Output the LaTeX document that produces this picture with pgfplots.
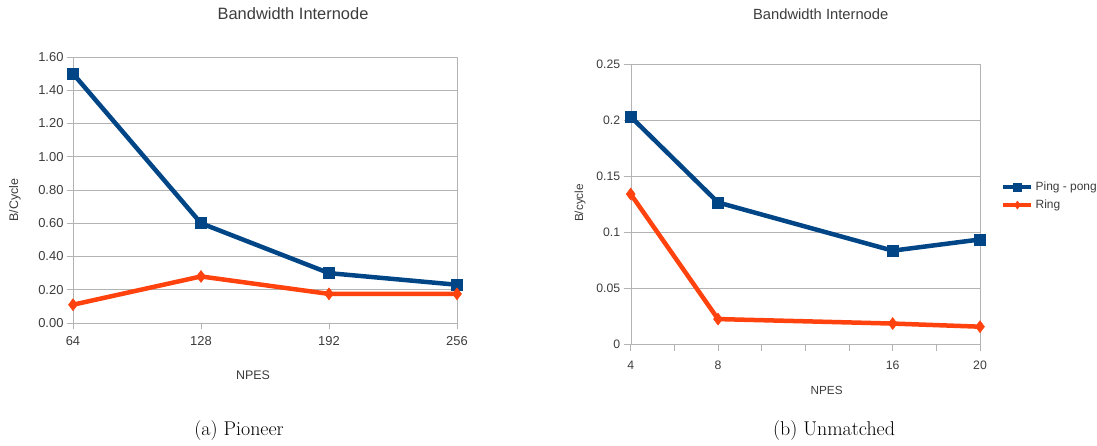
\documentclass[border=0pt]{standalone}
\usepackage{fontspec}
\usepackage{pgfplots}
\pgfplotsset{compat=1.18}
\newfontfamily\chartfont{Liberation Sans}
\definecolor{lobblue}{HTML}{004586}
\definecolor{loborange}{HTML}{FF420E}
\definecolor{lotext}{HTML}{3C3C3C}
\definecolor{logrid}{HTML}{B3B3B3}

\pgfplotsset{
  lochart/.style={
    scale only axis,
    anchor=south west,
    axis line style={logrid},
    every tick/.style={logrid, line width=0.8bp},
    tick align=outside,
    major tick length=7bp,
    minor tick length=7bp,
    ymajorgrids,
    major grid style={logrid, line width=0.8bp},
    xtick pos=bottom, ytick pos=left,
    scaled ticks=false,
    tick label style={font=\chartfont\fontsize{13}{15}\selectfont, text=lotext},
    /pgf/number format/assume math mode=true,
    title style={font=\chartfont\fontsize{16.5}{19}\selectfont, text=lotext, anchor=center},
    label style={font=\chartfont\fontsize{12.5}{15}\selectfont, text=lotext},
    clip=false,
  },
  pp/.style={color=lobblue, line width=4.5bp, mark=square*, mark size=5.5bp,
    mark options={line width=0.5bp}},
  rg/.style={color=loborange, line width=4.5bp, mark=diamond*, mark size=6bp,
    mark options={line width=0.5bp}},
}

\begin{document}
\begin{tikzpicture}
\path[use as bounding box] (0,0) rectangle (1097bp,446bp);

% (a) Pioneer
\begin{axis}[lochart,
  at={(73bp,123bp)}, width=384bp, height=266bp,
  xmin=64, xmax=256, ymin=0, ymax=1.6,
  xtick={64,128,192,256},
  ytick={0,0.2,0.4,0.6,0.8,1.0,1.2,1.4,1.6},
  major tick length=6bp,
  yticklabel style={/pgf/number format/.cd, fixed, fixed zerofill, precision=2},
  xticklabel style={yshift=-4bp},
  title={Bandwidth Internode},
  title style={at={(axis description cs:0.573,1.139)}},
  xlabel={NPES},
  xlabel style={at={(axis description cs:0.469,-0.195)}, anchor=center},
  ylabel={B/Cycle},
  ylabel style={at={(axis description cs:-0.151,0.462)}, anchor=center, rotate=0},
]
\addplot[pp] coordinates {(64,1.50) (128,0.60) (192,0.30) (256,0.23)};
\addplot[rg] coordinates {(64,0.11) (128,0.28) (192,0.175) (256,0.175)};
\end{axis}

% (b) Unmatched
\begin{axis}[lochart,
  at={(630.7bp,101.7bp)}, width=349.3bp, height=280.3bp,
  xmin=4, xmax=20, ymin=0, ymax=0.25,
  xtick={4,8,16,20},
  minor xtick={6,10,12,14,18},
  ytick={0,0.05,0.1,0.15,0.2,0.25},
  yticklabels={0,0.05,0.1,0.15,0.2,0.25},
  tick label style={font=\chartfont\fontsize{12.3}{14}\selectfont},
  xticklabel style={yshift=-6bp},
  title={Bandwidth Internode},
  title style={at={(axis description cs:0.544,1.157)}, font=\chartfont\fontsize{14.8}{17}\selectfont},
  xlabel={NPES},
  label style={font=\chartfont\fontsize{11.8}{14}\selectfont},
  xlabel style={at={(axis description cs:0.561,-0.163)}, anchor=center},
  ylabel={B/cycle},
  ylabel style={at={(axis description cs:-0.145,0.504)}, anchor=center, rotate=0},
  legend style={at={(axis description cs:1.06,0.529)}, anchor=west, draw=none,
    fill=none, font=\chartfont\fontsize{12}{14}\selectfont, text=lotext,
    row sep=4bp, inner sep=0pt,
    /tikz/every even column/.append style={column sep=1bp}},
  legend image code/.code={
    \draw[#1, mark size=4bp] (0bp,0bp) -- (28bp,0bp);
    \draw[#1, mark size=4bp, line width=0.5bp] plot coordinates {(14bp,0bp)};},
  legend cell align=left,
]
\addplot[pp] coordinates {(4,0.203) (8,0.1265) (16,0.0835) (20,0.0935)};
\addlegendentry{Ping - pong}
\addplot[rg] coordinates {(4,0.134) (8,0.0225) (16,0.0185) (20,0.0157)};
\addlegendentry{Ring}
\end{axis}

\node[font=\fontsize{20}{24}\selectfont] at (239bp,15bp) {(a) Pioneer};
\node[font=\fontsize{20}{24}\selectfont] at (834bp,15bp) {(b) Unmatched};
\end{tikzpicture}
\end{document}
